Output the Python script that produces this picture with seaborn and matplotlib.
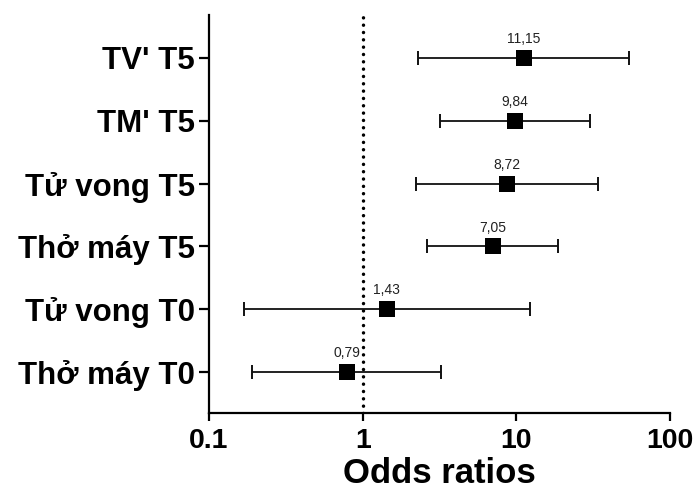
import numpy as np
import pandas as pd
import matplotlib
matplotlib.use("Agg")
import matplotlib.pyplot as plt
import seaborn as sns

# Odds ratios with 95% confidence intervals per outcome
labels = ["TV' T5", "TM' T5", "Tử vong T5", "Thở máy T5", "Tử vong T0", "Thở máy T0"]
odds_ratio = [11.15, 9.84, 8.72, 7.05, 1.43, 0.79]
ci_low = [2.28, 3.17, 2.21, 2.62, 0.169, 0.19]
ci_high = [54.4, 30.2, 34.2, 18.8, 12.2, 3.23]
x_ticks = [0.1, 1, 10, 100]
x_tick_labels = ["0.1", "1", "10", "100"]

sns.set_style("ticks")
plt.rcParams["font.family"] = ["Liberation Sans", "DejaVu Sans"]
plt.rcParams["text.color"] = "black"
plt.rcParams["axes.labelcolor"] = "black"
plt.rcParams["xtick.color"] = "black"
plt.rcParams["ytick.color"] = "black"

df = pd.DataFrame({
    "label": labels,
    "or": odds_ratio,
    "lo": ci_low,
    "hi": ci_high,
})
df["pos"] = np.arange(len(df))[::-1]

fig = plt.figure(figsize=(6.96, 4.91), dpi=100)
ax = fig.add_axes([0.3003, 0.1589, 0.6623, 0.8105])

# reference line at OR = 1
ax.axvline(1, color="black", lw=2.5, linestyle=(0, (0.01, 2.1)),
           dash_capstyle="round", zorder=1)

# confidence interval whiskers
ax.errorbar(df["or"], df["pos"],
            xerr=[df["or"] - df["lo"], df["hi"] - df["or"]],
            fmt="none", ecolor="#111111", elinewidth=1.3, capsize=5,
            capthick=1.4, zorder=2)

# point estimates
sns.scatterplot(data=df, x="or", y="pos", marker="s", s=135, color="black",
                linewidth=0, ax=ax, zorder=3, legend=False)

for v, p in zip(df["or"], df["pos"]):
    ax.annotate(f"{v:.2f}".replace(".", ","), (v, p), xytext=(0, 8.5),
                textcoords="offset points", ha="center", va="bottom",
                fontsize=10, color="#222222")

ax.set_xscale("log")
ax.set_xlim(0.1, 100)
ax.set_ylim(-0.65, 5.68)
ax.set_xticks(x_ticks)
ax.set_xticklabels(x_tick_labels, fontsize=20.5, fontweight="bold")
ax.xaxis.set_minor_locator(matplotlib.ticker.NullLocator())
ax.set_yticks(df["pos"])
ax.set_yticklabels(df["label"], fontsize=22.5, fontweight="bold")

ax.tick_params(axis="x", length=6, width=1.6, pad=5, colors="black")
ax.tick_params(axis="y", length=7, width=1.6, pad=3, colors="black")

for side in ["top", "right"]:
    ax.spines[side].set_visible(False)
for side in ["left", "bottom"]:
    ax.spines[side].set_linewidth(1.6)
    ax.spines[side].set_color("black")

ax.set_xlabel("Odds ratios", fontsize=25, fontweight="bold", labelpad=2,
              color="black")
ax.set_ylabel("")

fig.savefig("out.png", dpi=100)
